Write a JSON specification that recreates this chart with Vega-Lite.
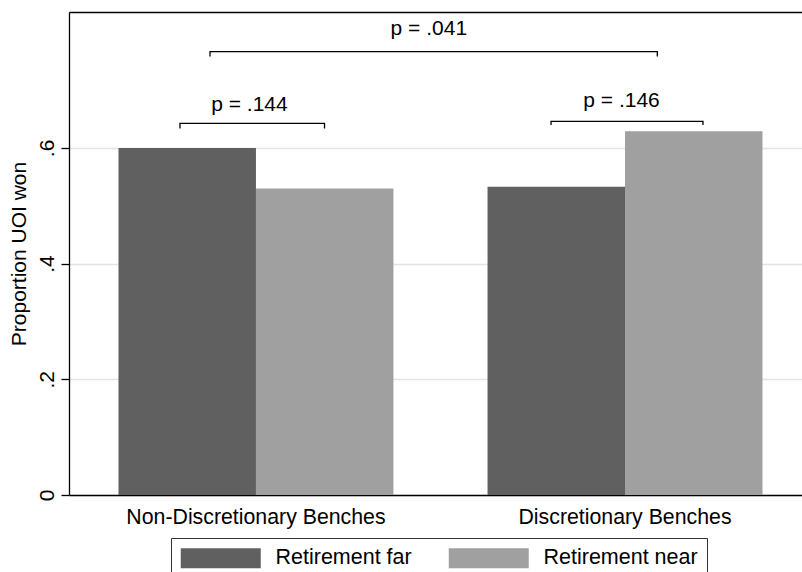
{
  "$schema": "https://vega.github.io/schema/vega-lite/v6.json",
  "width": 733,
  "height": 483,
  "autosize": {"type": "none"},
  "padding": {"left": 69, "top": 12, "right": 0, "bottom": 77},
  "background": "white",
  "config": {
    "view": {"stroke": null},
    "font": "Liberation Sans",
    "axis": {"labelFont": "Liberation Sans", "titleFont": "Liberation Sans", "labelColor": "black", "titleColor": "black"}
  },
  "datasets": {
    "bars": [
      {"bench": "Non-Discretionary Benches", "retirement": "Retirement far", "won": 0.600},
      {"bench": "Non-Discretionary Benches", "retirement": "Retirement near", "won": 0.530},
      {"bench": "Discretionary Benches", "retirement": "Retirement far", "won": 0.533},
      {"bench": "Discretionary Benches", "retirement": "Retirement near", "won": 0.629}
    ],
    "brackets": [
      {"bracket": "nd", "pos": 15.14, "y": 0.6337, "k": 1},
      {"bracket": "nd", "pos": 15.14, "y": 0.6424, "k": 2},
      {"bracket": "nd", "pos": 34.86, "y": 0.6424, "k": 3},
      {"bracket": "nd", "pos": 34.86, "y": 0.6337, "k": 4},
      {"bracket": "d", "pos": 65.76, "y": 0.6398, "k": 1},
      {"bracket": "d", "pos": 65.76, "y": 0.6458, "k": 2},
      {"bracket": "d", "pos": 86.49, "y": 0.6458, "k": 3},
      {"bracket": "d", "pos": 86.49, "y": 0.6398, "k": 4},
      {"bracket": "all", "pos": 19.24, "y": 0.7580, "k": 1},
      {"bracket": "all", "pos": 19.24, "y": 0.7666, "k": 2},
      {"bracket": "all", "pos": 80.26, "y": 0.7666, "k": 3},
      {"bracket": "all", "pos": 80.26, "y": 0.7580, "k": 4}
    ],
    "labels": [
      {"text": "p = .144", "pos": 24.62, "y": 0.664},
      {"text": "p = .146", "pos": 75.38, "y": 0.6714},
      {"text": "p = .041", "pos": 49.09, "y": 0.7954}
    ]
  },
  "layer": [
    {
      "data": {"name": "bars"},
      "mark": {"type": "bar", "strokeWidth": 0},
      "encoding": {
        "x": {
          "field": "bench", "type": "nominal",
          "sort": ["Non-Discretionary Benches", "Discretionary Benches"],
          "scale": {"paddingInner": 0.255, "paddingOuter": 0.1206, "align": 0.556},
          "axis": {"title": null, "labelAngle": 0, "ticks": false, "labelPadding": 11, "labelFontSize": 21.3, "labelLimit": 500, "domainColor": "black", "domainWidth": 1.3, "grid": false}
        },
        "xOffset": {"field": "retirement", "type": "nominal", "scale": {"paddingInner": 0, "paddingOuter": 0}},
        "y": {
          "field": "won", "type": "quantitative",
          "scale": {"domain": [0, 0.835], "nice": false, "zero": true},
          "axis": {
            "title": "Proportion UOI won", "titleFontSize": 21, "titleFontWeight": "normal",
            "titleAngle": 270, "titleX": -44, "titleY": 241.5, "titleAlign": "center", "titleBaseline": "alphabetic",
            "values": [0, 0.2, 0.4, 0.6],
            "labelExpr": "datum.value == 0 ? '0' : replace(format(datum.value, '.1f'), '0.', '.')",
            "labelFontSize": 21, "labelAngle": 270, "labelAlign": "center", "labelBaseline": "bottom", "labelPadding": 4,
            "tickSize": 8, "tickColor": "black", "tickWidth": 1.3,
            "domainColor": "black", "domainWidth": 1.3,
            "grid": true, "gridColor": "#e3e3e3", "gridWidth": 1.3
          }
        },
        "color": {
          "field": "retirement", "type": "nominal",
          "scale": {"domain": ["Retirement far", "Retirement near"], "range": ["#606060", "#a0a0a0"]},
          "legend": {
            "title": null, "orient": "none", "legendX": 102, "legendY": 526, "direction": "horizontal",
            "strokeColor": "#333333", "fillColor": "white", "padding": 9, "cornerRadius": 0,
            "symbolType": "M-1,-1H7V1H-1Z", "symbolSize": 400, "symbolStrokeWidth": 0, "symbolOpacity": 1,
            "labelFontSize": 21.5, "labelFont": "Liberation Sans", "labelColor": "black", "labelOffset": 74, "columnPadding": 36, "labelLimit": 300
          }
        }
      }
    },
    {
      "layer": [
        {
          "data": {"name": "brackets"},
          "mark": {"type": "line", "color": "black", "strokeWidth": 1.3},
          "encoding": {
            "x": {"field": "pos", "type": "quantitative", "scale": {"domain": [0, 100], "nice": false},
                  "axis": {"orient": "top", "title": null, "labels": false, "ticks": false, "grid": false, "domainColor": "black", "domainWidth": 1.3}},
            "y": {"field": "y", "type": "quantitative"},
            "detail": {"field": "bracket"},
            "order": {"field": "k"}
          }
        },
        {
          "data": {"name": "labels"},
          "mark": {"type": "text", "fontSize": 21, "font": "Liberation Sans", "color": "black", "align": "center", "baseline": "alphabetic"},
          "encoding": {
            "x": {"field": "pos", "type": "quantitative"},
            "y": {"field": "y", "type": "quantitative"},
            "text": {"field": "text"}
          }
        }
      ]
    }
  ],
  "resolve": {"scale": {"x": "independent"}, "axis": {"x": "independent"}}
}
